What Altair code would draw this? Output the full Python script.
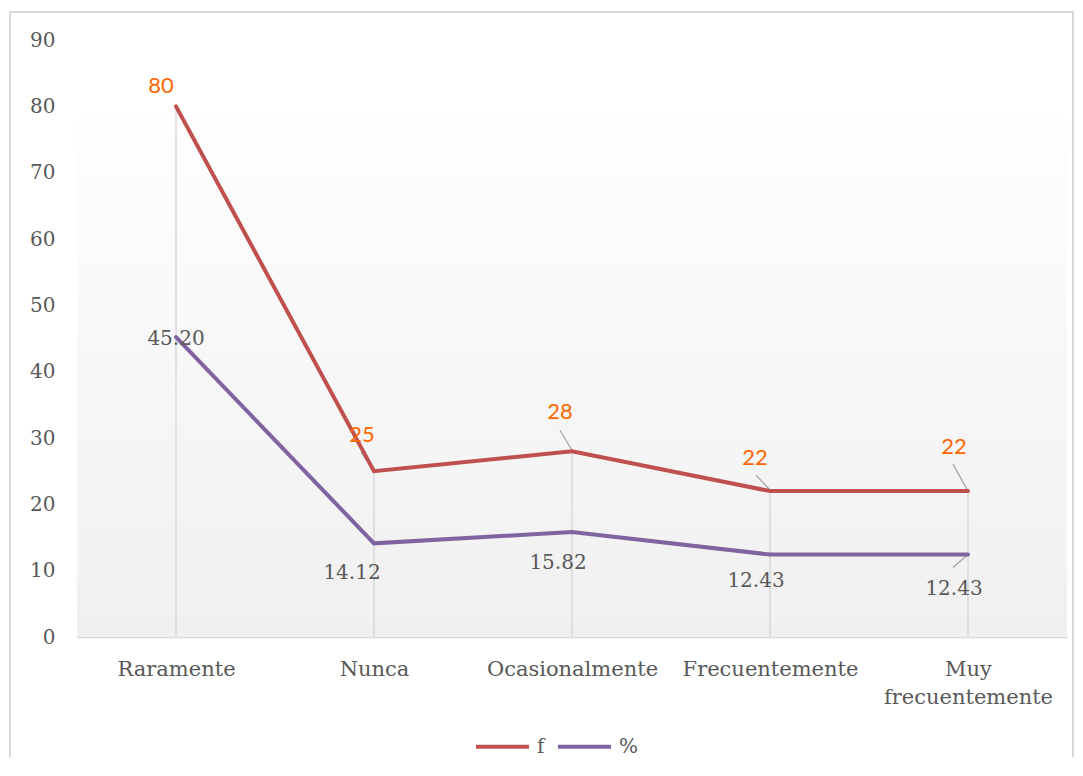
import altair as alt
import pandas as pd

# ---------------- data ----------------
categories = ["Raramente", "Nunca", "Ocasionalmente", "Frecuentemente", "Muy frecuentemente"]
series_names = ["f", "%"]
f_values = [80, 25, 28, 22, 22]
pct_values = [45.20, 14.12, 15.82, 12.43, 12.43]
y_ticks = [0, 10, 20, 30, 40, 50, 60, 70, 80, 90]

rows = []
for c, v in zip(categories, f_values):
    rows.append({"cat": c, "series": "f", "value": v})
for c, v in zip(categories, pct_values):
    rows.append({"cat": c, "series": "%", "value": v})
df = pd.DataFrame(rows)
df_f = df[df.series == "f"]
one = pd.DataFrame({"a": [0]})

# ---------------- style ----------------
W, H = 990, 597
SERIF = "DejaVu Serif"
SANS = "Lato"
TXT = "#595959"
RED = "#C0504D"
PURPLE = "#8064A2"
ORANGE = "#FF6600"
LIGHT = "#d9d9d9"

# label offsets (pixels) per category
f_offsets = [(-15, -20), (-12, -36), (-12, -39), (-15, -33), (-14, -44)]
pct_offsets = [(0, 2), (-22, 30), (-14, 31), (-14, 26), (-14, 34)]
# leader lines (pixel paths relative to the point)
leaders = [
    ("f", "Nunca", "M -13 -19 L 0 0"),
    ("f", "Ocasionalmente", "M -12 -21 L 0 -1"),
    ("f", "Frecuentemente", "M -14 -16 L 0 -1"),
    ("f", "Muy frecuentemente", "M -15 -27 L 0 0"),
    ("%", "Muy frecuentemente", "M -15 13 L 0 0"),
]

x_enc = alt.X(
    "cat:N",
    sort=categories,
    scale=alt.Scale(type="point", padding=0.5),
    axis=alt.Axis(
        title=None, labelAngle=0, labelFont=SERIF, labelFontSize=21, labelColor=TXT,
        labelPadding=21, labelLineHeight=28, ticks=False, grid=False,
        domainColor=LIGHT, domainWidth=1.5, labelExpr="split(datum.label, ' ')",
    ),
)
y_enc = alt.Y(
    "value:Q",
    scale=alt.Scale(domain=[0, 90]),
    axis=alt.Axis(
        title=None, values=y_ticks, domain=False, ticks=False, grid=False,
        labelFont=SERIF, labelFontSize=20, labelColor=TXT, labelPadding=22,
    ),
)

border = alt.Chart(one).mark_rect(fillOpacity=0, stroke=LIGHT, strokeWidth=2).encode(
    x=alt.value(-67), x2=alt.value(996), y=alt.value(-28), y2=alt.value(800)
)

bg = alt.Chart(one).mark_rect(
    color=alt.LinearGradient(
        gradient="linear",
        stops=[alt.GradientStop(color="#fefefe", offset=0), alt.GradientStop(color="#f0f0f0", offset=1)],
        x1=0, x2=0, y1=0, y2=1,
    )
).encode(x=alt.value(0), x2=alt.value(W), y=alt.value(78), y2=alt.value(H))

drops = alt.Chart(df_f).mark_rule(color=LIGHT, strokeWidth=1.5).encode(
    x=x_enc, y=y_enc, y2=alt.datum(0)
)

leader_layers = []
for s, c, path in leaders:
    leader_layers.append(
        alt.Chart(df).transform_filter(
            (alt.datum.series == s) & (alt.datum.cat == c)
        ).mark_point(shape=path, size=4, filled=False, stroke="#a6a6a6", strokeWidth=1.3, opacity=1).encode(
            x=x_enc, y=y_enc
        )
    )

lines = alt.Chart(df).mark_line(strokeWidth=4, strokeCap="round").encode(
    x=x_enc,
    y=y_enc,
    color=alt.Color(
        "series:N",
        scale=alt.Scale(domain=series_names, range=[RED, PURPLE]),
        legend=alt.Legend(
            title=None, orient="none", legendX=397, legendY=678, direction="horizontal",
            symbolType="stroke", symbolSize=2809, symbolStrokeWidth=4,
            labelFont=SERIF, labelFontSize=20, labelColor=TXT, labelOffset=6, columnPadding=5,
        ),
    ),
    detail="series:N",
)

text_layers = []
for c, (dx, dy) in zip(categories, f_offsets):
    text_layers.append(
        alt.Chart(df).transform_filter((alt.datum.series == "f") & (alt.datum.cat == c)).mark_text(
            font=SANS, fontSize=22, color=ORANGE, dx=dx, dy=dy, baseline="middle", align="center"
        ).encode(x=x_enc, y=y_enc, text=alt.Text("value:Q", format=".0f"))
    )
for c, (dx, dy) in zip(categories, pct_offsets):
    text_layers.append(
        alt.Chart(df).transform_filter((alt.datum.series == "%") & (alt.datum.cat == c)).mark_text(
            font=SERIF, fontSize=20, color=TXT, dx=dx, dy=dy, baseline="middle", align="center"
        ).encode(x=x_enc, y=y_enc, text=alt.Text("value:Q", format=".2f"))
    )

chart = alt.layer(border, bg, drops, *leader_layers, lines, *text_layers).properties(
    width=W, height=H,
    padding={"left": 69, "top": 32, "right": 8, "bottom": 120},
    autosize=alt.AutoSizeParams(type="none"),
    background="white",
).configure_view(stroke=None)

chart.save("out.html", embed_options={"renderer": "svg", "actions": False})
